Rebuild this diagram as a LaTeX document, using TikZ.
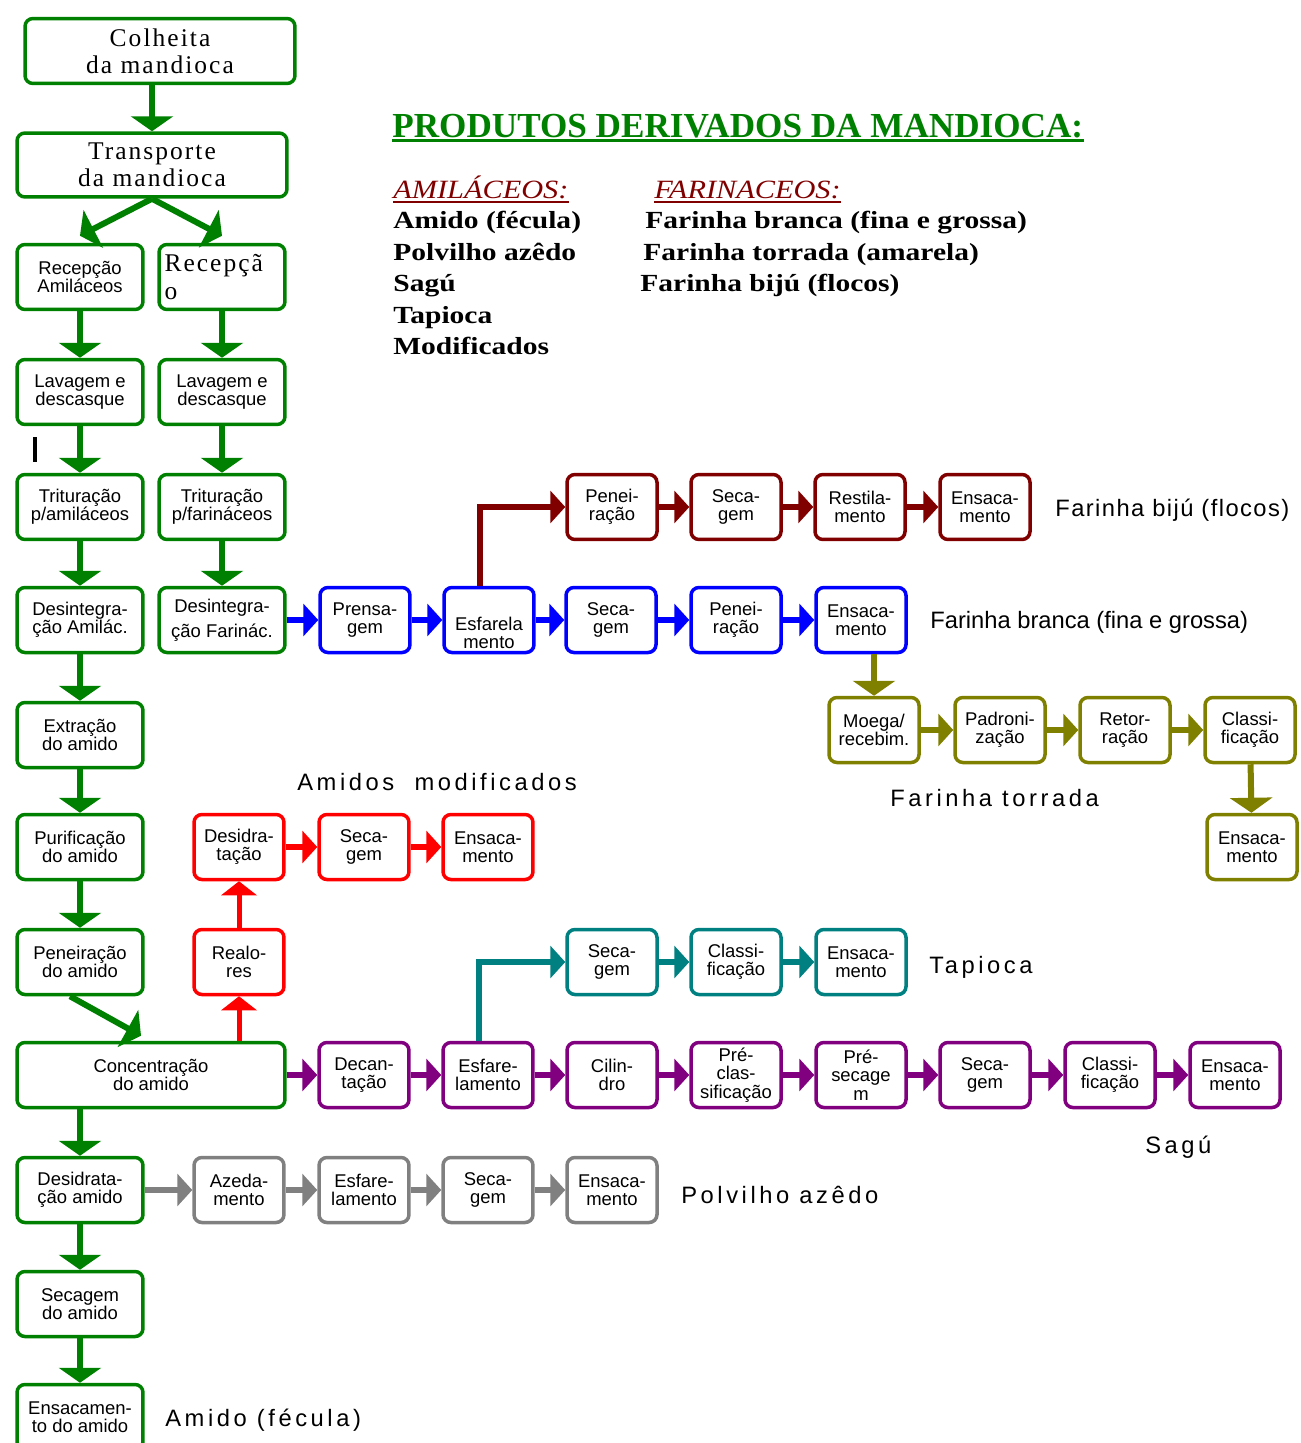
\documentclass[tikz,border=0pt]{standalone}
\usepackage{fontspec}
\setmainfont{Liberation Serif}
\setsansfont{Liberation Sans}
\newfontfamily\caixafonte{Liberation Sans}
\newfontfamily\seriffonte{Liberation Serif}[LetterSpace=8]
\newfontfamily\rotulofonte{Liberation Sans}[LetterSpace=15]
\newfontfamily\bijufonte{Liberation Sans}[LetterSpace=6]
\newfontfamily\listafonte{Liberation Serif}[FakeStretch=1.2]
\newfontfamily\tipofonte{Liberation Serif}[FakeStretch=1.15]
\usetikzlibrary{arrows.meta,positioning}
\usepackage{xcolor}

\definecolor{verde}{RGB}{0,128,0}
\definecolor{marrom}{RGB}{128,0,0}
\definecolor{azul}{RGB}{0,0,255}
\definecolor{oliva}{RGB}{128,128,0}
\definecolor{vermelho}{RGB}{255,0,0}
\definecolor{ciano}{RGB}{0,128,128}
\definecolor{roxo}{RGB}{128,0,128}
\definecolor{cinza}{RGB}{128,128,128}

\newcommand{\caixatxt}{\caixafonte\fontsize{10.5}{10.5}\selectfont}
\newcommand{\seriftxt}{\seriffonte\fontsize{14.5}{15.5}\selectfont}
\newcommand{\rotulotxt}{\rotulofonte\fontsize{13.5}{14}\selectfont}
\newcommand{\listatxt}{\listafonte\bfseries\fontsize{14}{16}\selectfont}

\begin{document}
\begin{tikzpicture}[x=0.02cm,y=-0.02cm]
      \tikzstyle{etapa} = [draw, rounded corners=4.5pt, line width=0.07cm, fill=white, text=black, minimum width=1.8cm, minimum height=1.3cm, inner sep=1pt, align=center, font=\caixatxt]
      \tikzstyle{coluna} = [etapa, draw=verde, minimum width=2.52cm]
      \tikzstyle{topo} = [coluna, minimum width=5.4cm, font=\seriftxt]
      \tikzstyle{seta} = [line width=0.12cm, -{Triangle[width=0.84cm,length=0.3cm]}]
      \tikzstyle{setav} = [line width=0.1cm, -{Triangle[width=0.7cm,length=0.28cm]}]
      \tikzstyle{setah} = [line width=0.11cm, -{Triangle[width=0.64cm,length=0.3cm]}]
      \tikzstyle{rotulo} = [anchor=west, inner sep=0pt, font=\rotulotxt]
      \tikzstyle{lista} = [anchor=base west, inner sep=0pt, font=\listatxt]

      \useasboundingbox (0,0) rectangle (1301,1443);

      % titulo e produtos
      \node[anchor=base west, inner sep=0pt, text=verde, font=\bfseries\fontsize{20}{22}\selectfont] (titulo) at (392,137) {PRODUTOS DERIVADOS DA MANDIOCA:};
      \draw[verde, line width=0.05cm] ([yshift=-0.07cm]titulo.base west) -- ([yshift=-0.07cm]titulo.base east);
      \node[anchor=base west, inner sep=0pt, text=marrom, font=\tipofonte\itshape\fontsize{15}{16}\selectfont] (amil) at (393,198) {AMILÁCEOS:};
      \node[anchor=base west, inner sep=0pt, text=marrom, font=\tipofonte\itshape\fontsize{15}{16}\selectfont] (farin) at (654,198) {FARINACEOS:};
      \draw[marrom, line width=0.04cm] ([yshift=-0.08cm]amil.base west) -- ([yshift=-0.08cm]amil.base east);
      \draw[marrom, line width=0.04cm] ([yshift=-0.08cm]farin.base west) -- ([yshift=-0.08cm]farin.base east);
      \node[lista] (l1) at (393,228) {Amido (fécula)};
      \node[lista] (l2) at (393,260) {Polvilho azêdo};
      \node[lista] (l3) at (393,291) {Sagú};
      \node[lista] (l4) at (393,323) {Tapioca};
      \node[lista] (l5) at (393,354) {Modificados};
      \node[lista] (f1) at (645,228) {Farinha branca (fina e grossa)};
      \node[lista] (f2) at (643,260) {Farinha torrada (amarela)};
      \node[lista] (f3) at (640,291) {Farinha bijú (flocos)};

      % coluna principal
      \node[topo] (colheita) at (160,51) {Colheita\\da mandioca};
      \node[topo, minimum height=1.28cm] (transporte) at (152,165) {Transporte\\da mandioca};
      \node[coluna] (recA) at (80,277) {Recepção\\Amiláceos};
      \node[coluna, align=left, text width=2.3cm, font=\seriffonte\fontsize{14.5}{16}\selectfont] (recF) at (222,277) {Recepçã\\o};
      \node[coluna] (lavA) at (80,392) {Lavagem e\\descasque};
      \node[coluna] (lavF) at (222,392) {Lavagem e\\descasque};
      \node[coluna] (triA) at (80,507) {Trituração\\p/amiláceos};
      \node[coluna] (triF) at (222,507) {Trituração\\p/farináceos};
      \node[coluna] (desA) at (80,620) {Desintegra-\\ção Amilác.};
      \node[coluna, font=\caixafonte\fontsize{10.5}{14}\selectfont] (desF) at (222,620) {Desintegra-\\ção Farinác.};
      \node[coluna] (extA) at (80,735) {Extração\\do amido};
      \node[coluna] (purA) at (80,847) {Purificação\\do amido};
      \node[coluna] (penA) at (80,962) {Peneiração\\do amido};
      \node[coluna, minimum width=5.36cm] (conc) at (151,1075) {Concentração\\do amido};
      \node[coluna] (desid) at (80,1190) {Desidrata-\\ção amido};
      \node[coluna] (secA) at (80,1304) {Secagem\\do amido};
      \node[coluna] (ensA) at (80,1417) {Ensacamen-\\to do amido};
      \draw[line width=0.08cm] (35,437) -- (35,462);

      \draw[seta, verde] (colheita.south -| transporte.north) -- (transporte.north);
      \draw[seta, verde] (transporte.south) -- ([yshift=0.14cm]recA.north);
      \draw[seta, verde] (transporte.south) -- ([yshift=0.14cm]recF.north);
      \draw[seta, verde] (recA) -- (lavA);
      \draw[seta, verde] (recF) -- (lavF);
      \draw[seta, verde] (lavA) -- (triA);
      \draw[seta, verde] (lavF) -- (triF);
      \draw[seta, verde] (triA) -- (desA);
      \draw[seta, verde] (triF) -- (desF);
      \draw[seta, verde] (desA) -- (extA);
      \draw[seta, verde] (extA) -- (purA);
      \draw[seta, verde] (purA) -- (penA);
      \draw[seta, verde] ([xshift=-0.2cm]penA.south) -- ([xshift=-0.2cm,yshift=0.1cm]conc.north);
      \draw[seta, verde] (conc.south -| desid.north) -- (desid.north);
      \draw[seta, verde] (desid) -- (secA);
      \draw[seta, verde] (secA) -- (ensA);
      \node[rotulo] (amido) at (165,1420) {Amido (fécula)};

      % farinha branca
      \node[etapa, draw=azul] (prensa) at (365,620) {Prensa-\\gem};
      \node[etapa, draw=azul, inner sep=0pt] (esfB) at (489,620) {\mbox{}\\[12pt]Esfarela\\mento};
      \node[etapa, draw=azul] (secB) at (611,620) {Seca-\\gem};
      \node[etapa, draw=azul] (penB) at (736,620) {Penei-\\ração};
      \node[etapa, draw=azul] (ensB) at (861,620) {Ensaca-\\mento};
      \draw[setah, azul] (desF) -- (prensa);
      \draw[setah, azul] (prensa) -- (esfB);
      \draw[setah, azul] (esfB) -- (secB);
      \draw[setah, azul] (secB) -- (penB);
      \draw[setah, azul] (penB) -- (ensB);
      \node[rotulo, font=\caixafonte\fontsize{13.5}{14}\selectfont] (branca) at (930,622) {Farinha branca (fina e grossa)};

      % farinha biju
      \node[etapa, draw=marrom] (penM) at (612,507) {Penei-\\ração};
      \node[etapa, draw=marrom] (secM) at (736,507) {Seca-\\gem};
      \node[etapa, draw=marrom] (resM) at (860,507) {Restila-\\mento};
      \node[etapa, draw=marrom] (ensM) at (985,507) {Ensaca-\\mento};
      \draw[setah, marrom] ([xshift=-0.18cm]esfB.north) |- (penM.west);
      \draw[setah, marrom] (penM) -- (secM);
      \draw[setah, marrom] (secM) -- (resM);
      \draw[setah, marrom] (resM) -- (ensM);
      \node[rotulo, font=\bijufonte\fontsize{13.5}{14}\selectfont] (biju) at (1055,510) {Farinha bijú (flocos)};

      % farinha torrada
      \node[etapa, draw=oliva] (moega) at (874,730) {Moega/\\recebim.};
      \node[etapa, draw=oliva] (padr) at (1000,730) {Padroni-\\zação};
      \node[etapa, draw=oliva] (retor) at (1125,730) {Retor-\\ração};
      \node[etapa, draw=oliva] (claO) at (1250,730) {Classi-\\ficação};
      \node[etapa, draw=oliva] (ensO) at (1252,847) {Ensaca-\\mento};
      \draw[seta, oliva] (moega.north |- ensB.south) -- (moega.north);
      \draw[setah, oliva] (moega) -- (padr);
      \draw[setah, oliva] (padr) -- (retor);
      \draw[setah, oliva] (retor) -- (claO);
      \draw[seta, oliva] (claO) -- (ensO);
      \node[rotulo] (torrada) at (890,798) {Farinha torrada};

      % amidos modificados
      \node[rotulo] (modif) at (297,782) {Amidos~~modificados};
      \node[etapa, draw=vermelho] (desidR) at (239,847) {Desidra-\\tação};
      \node[etapa, draw=vermelho] (secR) at (364,847) {Seca-\\gem};
      \node[etapa, draw=vermelho] (ensR) at (488,847) {Ensaca-\\mento};
      \node[etapa, draw=vermelho] (realores) at (239,962) {Realo-\\res};
      \draw[setav, vermelho] (conc.north -| realores.south) -- (realores.south);
      \draw[setav, vermelho] (realores) -- (desidR);
      \draw[setah, vermelho] (desidR) -- (secR);
      \draw[setah, vermelho] (secR) -- (ensR);

      % sagu
      \node[etapa, draw=roxo] (decP) at (364,1075) {Decan-\\tação};
      \node[etapa, draw=roxo] (esfP) at (488,1075) {Esfare-\\lamento};
      \node[etapa, draw=roxo] (cilP) at (612,1075) {Cilin-\\dro};
      \node[etapa, draw=roxo] (preC) at (736,1075) {Pré-\\clas-\\sificação};
      \node[etapa, draw=roxo] (preS) at (861,1075) {Pré-\\secage\\m};
      \node[etapa, draw=roxo] (secP) at (985,1075) {Seca-\\gem};
      \node[etapa, draw=roxo] (claP) at (1110,1075) {Classi-\\ficação};
      \node[etapa, draw=roxo] (ensP) at (1235,1075) {Ensaca-\\mento};
      \draw[setah, roxo] (conc) -- (decP);
      \draw[setah, roxo] (decP) -- (esfP);
      \draw[setah, roxo] (esfP) -- (cilP);
      \draw[setah, roxo] (cilP) -- (preC);
      \draw[setah, roxo] (preC) -- (preS);
      \draw[setah, roxo] (preS) -- (secP);
      \draw[setah, roxo] (secP) -- (claP);
      \draw[setah, roxo] (claP) -- (ensP);
      \node[rotulo] (sagu) at (1145,1147) {Sagú};

      % tapioca
      \node[etapa, draw=ciano] (secT) at (612,962) {Seca-\\gem};
      \node[etapa, draw=ciano] (claT) at (736,962) {Classi-\\ficação};
      \node[etapa, draw=ciano] (ensT) at (861,962) {Ensaca-\\mento};
      \draw[setah, ciano] ([xshift=-0.18cm]esfP.north) |- (secT.west);
      \draw[setah, ciano] (secT) -- (claT);
      \draw[setah, ciano] (claT) -- (ensT);
      \node[rotulo] (tapioca) at (929,967) {Tapioca};

      % polvilho azedo
      \node[etapa, draw=cinza] (azeda) at (239,1190) {Azeda-\\mento};
      \node[etapa, draw=cinza] (esfG) at (364,1190) {Esfare-\\lamento};
      \node[etapa, draw=cinza] (secG) at (488,1190) {Seca-\\gem};
      \node[etapa, draw=cinza] (ensG) at (612,1190) {Ensaca-\\mento};
      \draw[setah, cinza] (desid) -- (azeda);
      \draw[setah, cinza] (azeda) -- (esfG);
      \draw[setah, cinza] (esfG) -- (secG);
      \draw[setah, cinza] (secG) -- (ensG);
      \node[rotulo] (polvilho) at (681,1195) {Polvilho azêdo};
    \end{tikzpicture}
\end{document}
